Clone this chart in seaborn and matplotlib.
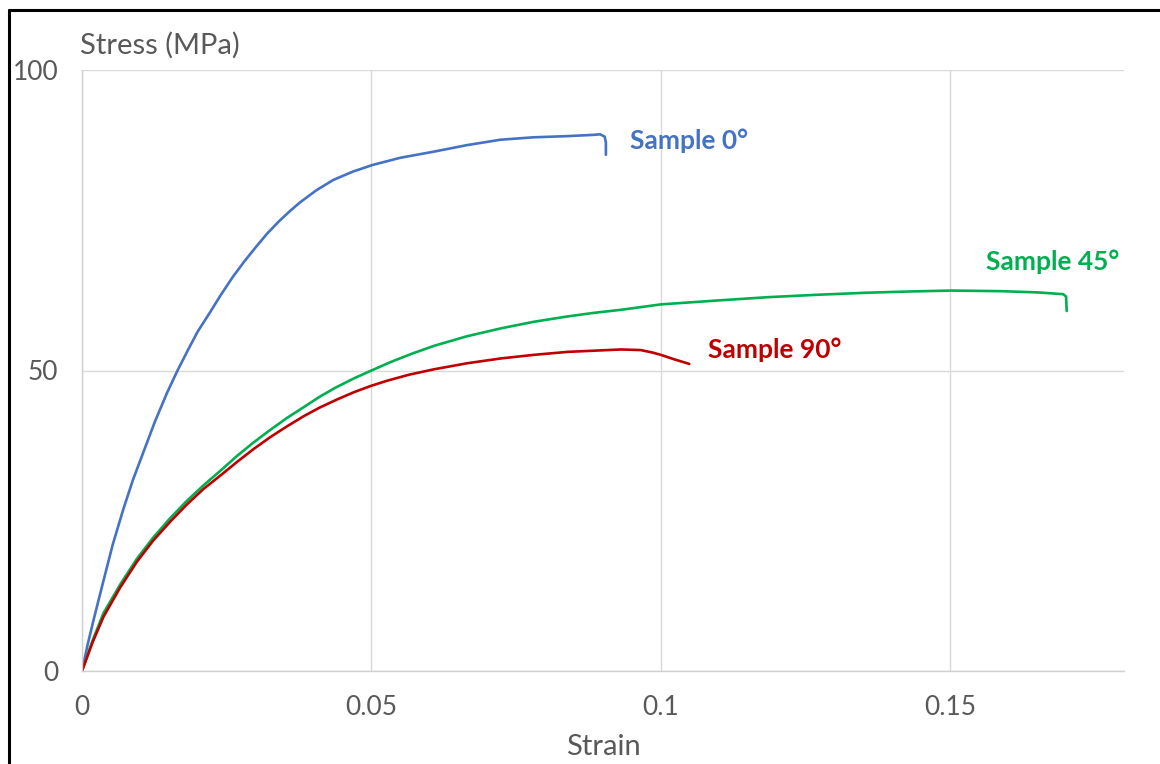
import pandas as pd
import matplotlib
matplotlib.use("Agg")
import matplotlib.pyplot as plt
from matplotlib.lines import Line2D
import seaborn as sns

# strain / stress
strain_0 = [0, 0.001, 0.002, 0.0036, 0.0053, 0.0071, 0.0088, 0.0106, 0.0126, 0.0147, 0.0165,
            0.0183, 0.020, 0.022, 0.024, 0.026, 0.028, 0.030, 0.032, 0.034, 0.036, 0.0377,
            0.0405, 0.0434, 0.0468, 0.0502, 0.055, 0.0607, 0.0665, 0.0723, 0.078, 0.0839,
            0.0882, 0.0895, 0.0903, 0.0905, 0.0905]
stress_0 = [0, 4.5, 8.5, 14.6, 21.0, 26.8, 31.8, 36.4, 41.5, 46.3, 50.0,
            53.4, 56.5, 59.5, 62.6, 65.5, 68.1, 70.5, 72.8, 74.8, 76.6, 78.0,
            80.0, 81.7, 83.1, 84.2, 85.4, 86.4, 87.5, 88.4, 88.8, 89.0,
            89.2, 89.3, 88.9, 87.9, 85.9]

strain_45 = [0, 0.0018, 0.0037, 0.0066, 0.0095, 0.0123, 0.0152, 0.018, 0.021, 0.024, 0.0268,
             0.0296, 0.0325, 0.0354, 0.0383, 0.041, 0.0437, 0.047, 0.05, 0.0533, 0.057,
             0.0608, 0.0665, 0.0723, 0.078, 0.0839, 0.0885, 0.0931, 0.1, 0.109, 0.1185,
             0.127, 0.1358, 0.143, 0.1502, 0.1588, 0.165, 0.1695, 0.170, 0.1701]
stress_45 = [0, 5.0, 9.6, 14.4, 18.7, 22.2, 25.4, 28.2, 30.9, 33.4, 35.8,
             38.0, 40.1, 42.1, 43.9, 45.6, 47.1, 48.7, 50.0, 51.4, 52.8,
             54.1, 55.7, 57.0, 58.1, 59.0, 59.6, 60.1, 61.0, 61.6, 62.2,
             62.6, 62.95, 63.15, 63.3, 63.2, 63.0, 62.7, 62.3, 59.9]

strain_90 = [0, 0.0018, 0.0037, 0.0066, 0.0095, 0.0123, 0.0152, 0.018, 0.021, 0.024, 0.0268,
             0.0296, 0.0325, 0.0354, 0.0383, 0.041, 0.0441, 0.047, 0.0498, 0.0527, 0.0565,
             0.0608, 0.0665, 0.0723, 0.078, 0.0839, 0.0885, 0.0931, 0.0965, 0.0985, 0.1,
             0.1025, 0.1049]
stress_90 = [0, 4.7, 9.0, 13.9, 18.2, 21.7, 24.8, 27.6, 30.3, 32.6, 34.8,
             36.9, 38.9, 40.7, 42.4, 43.8, 45.2, 46.4, 47.4, 48.3, 49.3,
             50.2, 51.2, 52.0, 52.6, 53.1, 53.3, 53.5, 53.4, 53.0, 52.6,
             51.8, 51.1]

labels = ["Sample 0°", "Sample 45°", "Sample 90°"]
colors = ["#4472C4", "#00B050", "#C00000"]
label_pos = [(0.0946, 88.2), (0.1562, 68.1), (0.1081, 53.4)]

sns.set_style("white")
plt.rcParams["font.family"] = ["Lato", "DejaVu Sans"]

fig = plt.figure(figsize=(11.6, 7.64), dpi=100)
ax = fig.add_axes([82 / 1160, 1 - 671 / 764, (1124 - 82) / 1160, (671 - 70) / 764])

series = [(strain_0, stress_0), (strain_45, stress_45), (strain_90, stress_90)]
for (xs, ys), lab, col in zip(series, labels, colors):
    d = pd.DataFrame({"Strain": xs, "Stress": ys})
    sns.lineplot(data=d, x="Strain", y="Stress", sort=False, estimator=None,
                 color=col, linewidth=1.9, ax=ax)

for lab, col, (lx, ly) in zip(labels, colors, label_pos):
    ax.text(lx, ly, lab, color=col, fontsize=19, fontweight="bold", va="center", ha="left")

ax.set_xlim(0, 0.18)
ax.set_ylim(0, 100)
ax.set_xticks([0, 0.05, 0.1, 0.15])
ax.set_xticklabels(["0", "0.05", "0.1", "0.15"])
ax.set_yticks([0, 50, 100])
ax.set_yticklabels(["0", "50", "100"])
ax.grid(True, color="#d9d9d9", linewidth=1)
ax.tick_params(length=0, pad=17, labelsize=19, labelcolor="#595959")
for s in ["top", "right"]:
    ax.spines[s].set_visible(False)
for s in ["left", "bottom"]:
    ax.spines[s].set_color("#d0d0d0")
    ax.spines[s].set_linewidth(1)
ax.set_xlabel("")
ax.set_ylabel("")

fig.text(80 / 1160, 1 - 45 / 764, "Stress (MPa)", fontsize=21, color="#595959", va="center", ha="left")
fig.text(603 / 1160, 1 - 747 / 764, "Strain", fontsize=21, color="#595959", va="center", ha="center")

# black frame on the left and top of the picture
fig.add_artist(Line2D([9 / 1160, 9 / 1160], [0, 1 - 10 / 764], color="black", linewidth=2.2))
fig.add_artist(Line2D([9 / 1160, 1], [1 - 10 / 764, 1 - 10 / 764], color="black", linewidth=2.2))

fig.savefig("out.png", dpi=100, facecolor="white")
